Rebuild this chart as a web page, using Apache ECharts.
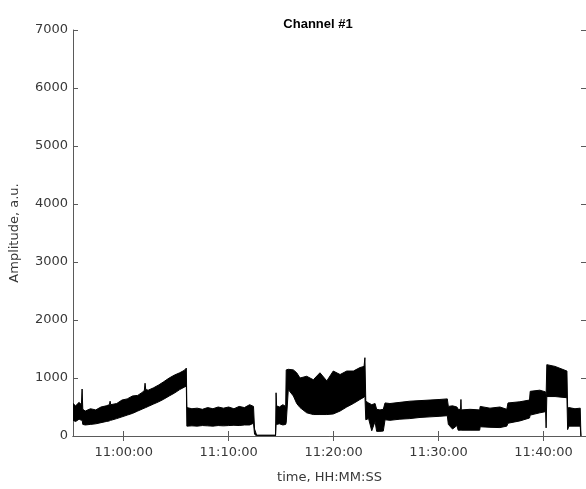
<!DOCTYPE html>
<html>
<head>
<meta charset="utf-8">
<script src="https://cdn.jsdelivr.net/npm/echarts@6/dist/echarts.min.js"></script>
<style>html,body{margin:0;padding:0;background:#fff}#c{width:586px;height:489px}</style>
</head>
<body>
<div id="c"></div>
<script>
// Envelope of the noisy signal (upper / lower amplitude)
const times = ['10:55:10','10:55:25','10:55:45','10:55:58','10:56:02','10:56:06','10:56:20','10:56:50','10:57:20','10:57:50','10:58:20','10:58:38','10:58:42','10:58:46','10:59:20','10:59:50','11:00:20','11:00:50','11:01:20','11:01:50','11:01:58','11:02:02','11:02:06','11:02:20','11:02:50','11:03:20','11:03:46','11:04:20','11:04:50','11:05:20','11:05:45','11:05:58','11:06:01','11:06:30','11:07:00','11:07:30','11:08:00','11:08:30','11:09:00','11:09:30','11:10:00','11:10:30','11:11:00','11:11:30','11:12:00','11:12:22','11:12:28','11:12:40','11:14:28','11:14:31','11:14:34','11:14:50','11:15:10','11:15:26','11:15:29','11:15:41','11:16:10','11:16:29','11:16:48','11:17:26','11:18:04','11:18:42','11:19:21','11:19:58','11:20:37','11:21:15','11:21:53','11:22:31','11:22:54','11:22:59','11:23:04','11:23:20','11:23:38','11:23:57','11:24:06','11:24:25','11:24:44','11:24:54','11:25:22','11:26:19','11:27:16','11:28:14','11:29:11','11:30:08','11:30:50','11:30:56','11:31:20','11:31:45','11:31:52','11:32:06','11:32:08','11:32:10','11:33:00','11:33:55','11:33:58','11:34:54','11:35:51','11:36:30','11:36:37','11:37:45','11:38:40','11:38:44','11:39:39','11:40:12','11:40:15','11:40:19','11:41:06','11:41:40','11:42:14','11:42:18','11:42:25','11:43:00','11:43:30','11:43:34'];
const upper = [560,520,580,540,810,460,430,470,450,500,520,540,600,540,560,620,640,690,700,760,790,910,800,790,830,880,930,1000,1050,1090,1130,1170,490,470,480,460,490,470,500,480,500,470,510,490,540,510,120,15,15,745,520,500,540,510,1140,1150,1140,1090,1000,1030,970,1090,950,1120,1060,1120,1120,1180,1200,1350,600,570,540,560,460,450,460,570,560,580,600,610,620,630,640,510,520,500,460,460,630,450,460,450,510,480,500,460,570,590,620,770,790,760,700,1230,1200,1160,1120,480,490,470,480,0];
const lower = [270,250,290,270,280,200,190,200,210,230,250,260,270,270,300,330,360,390,430,470,480,485,490,510,550,590,630,690,740,800,840,860,170,175,170,180,175,170,180,175,180,185,180,190,190,220,30,0,0,200,200,210,190,200,230,800,690,560,490,400,370,370,370,380,430,500,560,630,670,690,280,300,90,250,80,80,85,280,270,290,300,320,330,340,350,200,120,180,100,100,100,100,100,100,160,150,145,170,220,260,310,360,400,420,140,680,680,670,660,110,170,170,170,0];

const xTickLabels = ['11:00:00','11:10:00','11:20:00','11:30:00','11:40:00'];
const xMinLabel = '10:55:10';
const xMaxLabel = '11:44:03';

function toSec(s){const p=s.split(':').map(Number);return p[0]*3600+p[1]*60+p[2];}
function fmt(v){const h=Math.floor(v/3600),m=Math.floor((v%3600)/60),s=Math.round(v%60);const z=n=>String(n).padStart(2,'0');return z(h)+':'+z(m)+':'+z(s);}

const data = times.map((t,i)=>[toSec(t), upper[i], lower[i]]);
const xTicks = xTickLabels.map(toSec);

const chart = echarts.init(document.getElementById('c'), null, {renderer:'canvas'});
const axisColor = '#5a5a5a';
const labelColor = '#383838';
const font = 'DejaVu Sans';

chart.setOption({
  animation:false,
  backgroundColor:'#fff',
  title:{text:'Channel #1', left:313, top:13, textAlign:'center',
    textStyle:{fontFamily:'Liberation Sans', fontWeight:'bold', fontSize:13, color:'#000'}},
  grid:{left:73, right:0, top:30, bottom:52, containLabel:false},
  xAxis:[{
    type:'value', min:toSec(xMinLabel), max:toSec(xMaxLabel), position:'bottom',
    name:'time, HH:MM:SS', nameLocation:'middle', nameGap:35,
    nameTextStyle:{fontFamily:font, fontSize:13, color:labelColor},
    axisLine:{show:true, lineStyle:{color:axisColor, width:1}},
    axisTick:{show:true, inside:true, length:5, customValues:xTicks, lineStyle:{color:axisColor}},
    axisLabel:{show:true, customValues:xTicks, formatter:fmt, margin:10, fontFamily:font, fontSize:13, color:labelColor},
    splitLine:{show:false}
  },{
    type:'value', min:toSec(xMinLabel), max:toSec(xMaxLabel), position:'top',
    axisLine:{show:true, lineStyle:{color:axisColor, width:1}},
    axisTick:{show:true, inside:true, length:5, customValues:xTicks, lineStyle:{color:axisColor}},
    axisLabel:{show:false}, splitLine:{show:false}
  }],
  yAxis:[{
    type:'value', min:0, max:7000, interval:1000, position:'left',
    name:'Amplitude, a.u.', nameLocation:'middle', nameGap:52, nameRotate:90,
    nameTextStyle:{fontFamily:font, fontSize:13, color:labelColor},
    axisLine:{show:true, lineStyle:{color:axisColor, width:1}},
    axisTick:{show:true, inside:true, length:5, lineStyle:{color:axisColor}},
    axisLabel:{margin:5, fontFamily:font, fontSize:13, color:labelColor, formatter:v=>String(v)},
    splitLine:{show:false}
  },{
    type:'value', min:0, max:7000, interval:1000, position:'right',
    axisLine:{show:true, lineStyle:{color:axisColor, width:1}},
    axisTick:{show:true, inside:true, length:5, lineStyle:{color:axisColor}},
    axisLabel:{show:false}, splitLine:{show:false}
  }],
  series:[{
    type:'custom',
    xAxisIndex:0, yAxisIndex:0,
    clip:true,
    encode:{x:0, y:[1,2]},
    data:data,
    renderItem:function(params, api){
      if(params.dataIndex!==0) return null;
      const pts=[];
      for(let i=0;i<data.length;i++) pts.push(api.coord([data[i][0], data[i][1]]));
      for(let i=data.length-1;i>=0;i--) pts.push(api.coord([data[i][0], data[i][2]]));
      return {type:'polygon', shape:{points:pts}, style:{fill:'#000', stroke:'#000', lineWidth:1}};
    }
  }]
});
</script>
</body>
</html>
